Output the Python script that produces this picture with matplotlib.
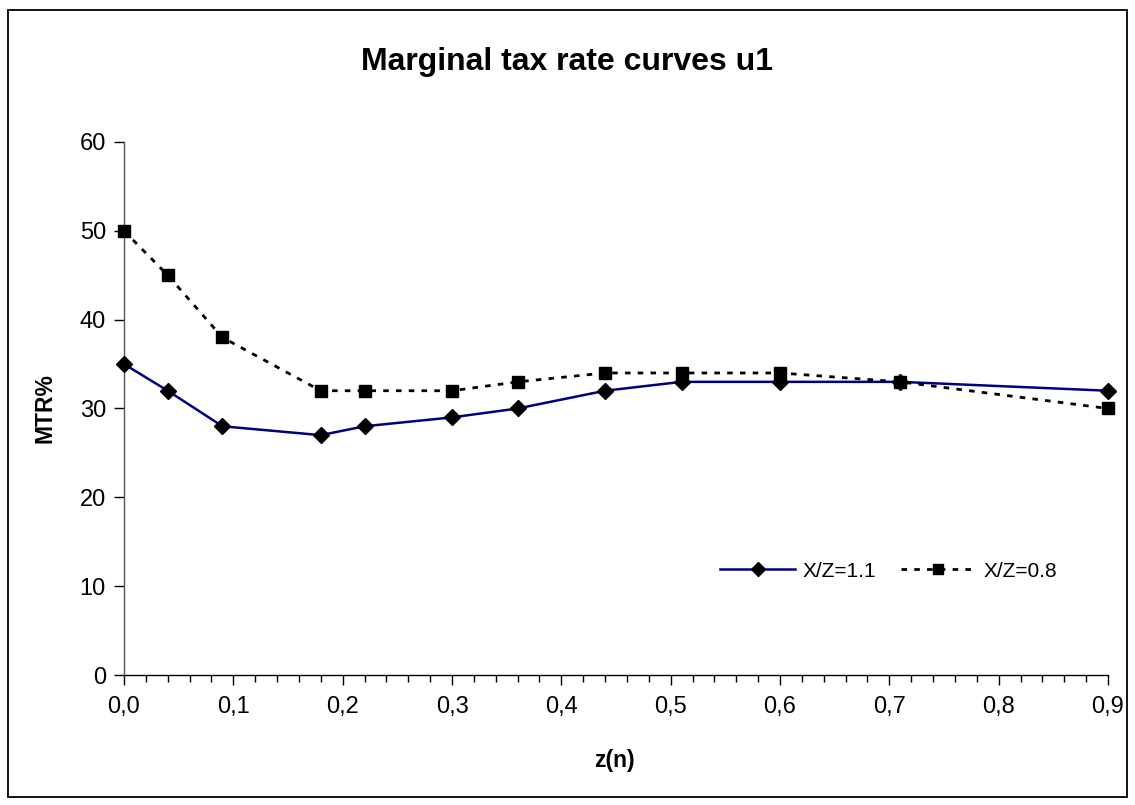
import matplotlib
matplotlib.use("Agg")
import matplotlib.pyplot as plt
from matplotlib.ticker import FuncFormatter, MultipleLocator
from matplotlib.patches import Rectangle

# Data
z_values = [0.0, 0.04, 0.09, 0.18, 0.22, 0.30, 0.36, 0.44, 0.51, 0.60, 0.71, 0.90]
mtr_xz_11 = [35, 32, 28, 27, 28, 29, 30, 32, 33, 33, 33, 32]
mtr_xz_08 = [50, 45, 38, 32, 32, 32, 33, 34, 34, 34, 33, 30]
series_labels = ["X/Z=1.1", "X/Z=0.8"]
title = "Marginal tax rate curves u1"
x_label = "z(n)"
y_label = "MTR%"

plt.rcParams['font.family'] = ['Liberation Sans', 'DejaVu Sans']

W, H = 1135, 805
fig = plt.figure(figsize=(W / 100, H / 100), dpi=100)

# outer border
fig.patches.append(Rectangle((8 / W, 1 - 797 / H), (1127 - 8) / W, (797 - 10) / H,
                             transform=fig.transFigure, fill=False, edgecolor='black',
                             linewidth=1.3))

left, right, top, bottom = 124, 1108, 142, 675
ax = fig.add_axes([left / W, 1 - bottom / H, (right - left) / W, (bottom - top) / H])

ax.plot(z_values, mtr_xz_11, color='#000080', linewidth=1.8, marker='D',
        markersize=8.5, markerfacecolor='black', markeredgecolor='black',
        label=series_labels[0], clip_on=False, zorder=3)
ax.plot(z_values, mtr_xz_08, color='black', linewidth=2.0, linestyle=(0, (2, 2.6)),
        marker='s', markersize=9, markerfacecolor='black', markeredgecolor='black',
        label=series_labels[1], clip_on=False, zorder=3)

ax.set_xlim(0, 0.9)
ax.set_ylim(0, 60)
for s in ['top', 'right']:
    ax.spines[s].set_visible(False)
ax.spines['left'].set_color('#555555')
ax.spines['bottom'].set_color('black')
ax.spines['left'].set_linewidth(1.0)
ax.spines['bottom'].set_linewidth(1.0)

ax.xaxis.set_major_locator(MultipleLocator(0.1))
ax.xaxis.set_minor_locator(MultipleLocator(0.02))
ax.yaxis.set_major_locator(MultipleLocator(10))
ax.xaxis.set_major_formatter(FuncFormatter(lambda v, p: f"{v:.1f}".replace('.', ',')))
ax.yaxis.set_major_formatter(FuncFormatter(lambda v, p: f"{v:.0f}"))
ax.tick_params(axis='x', which='major', direction='out', length=7, width=1, labelsize=17, pad=8)
ax.tick_params(axis='x', which='minor', direction='out', length=5, width=1)
ax.tick_params(axis='y', which='major', direction='out', length=7, width=1, labelsize=17, pad=6)

fig.text(567 / W, 1 - 62 / H, title, ha='center', va='center', fontsize=23, fontweight='bold')
fig.text(614 / W, 1 - 760 / H, x_label, ha='center', va='center', fontsize=16.5, fontweight='bold')
fig.text(45 / W, 1 - 408 / H, y_label, ha='center', va='center', fontsize=16.5,
         fontweight='bold', rotation=90)

leg = ax.legend(loc='center left', bbox_to_anchor=(720 / W, 1 - 571 / H),
                bbox_transform=fig.transFigure, ncol=2, frameon=False, fontsize=15,
                handlelength=3.6, handletextpad=0.35, columnspacing=1.2, markerscale=0.85,
                borderaxespad=0, borderpad=0)

fig.savefig("out.png", dpi=100)
